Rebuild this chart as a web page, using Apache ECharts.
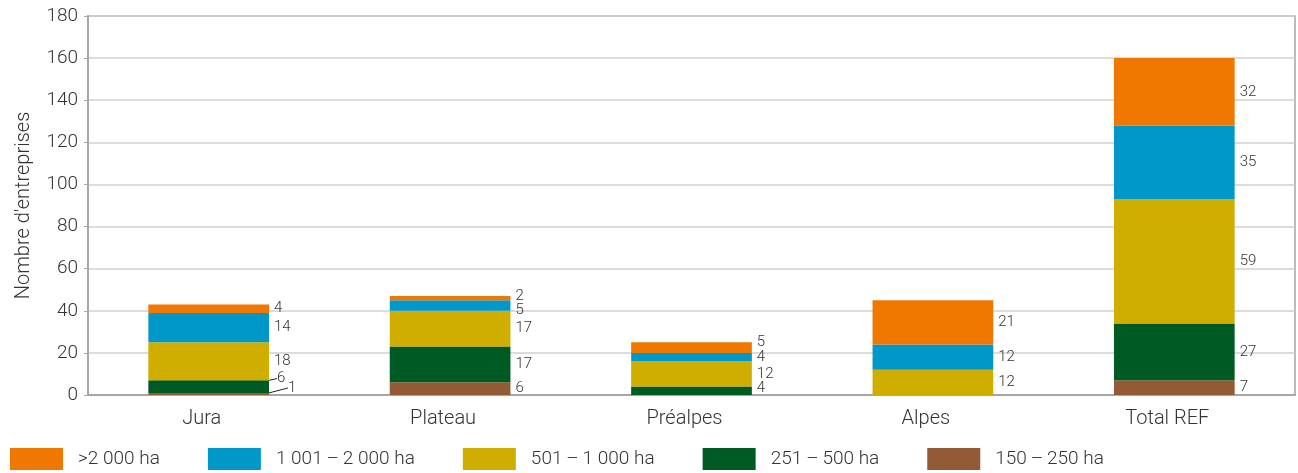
<!DOCTYPE html>
<html><head><meta charset="utf-8">
<script src="https://cdn.jsdelivr.net/npm/echarts@6/dist/echarts.min.js"></script>
<style>html,body{margin:0;padding:0;background:#fff}#c{width:1298px;height:473px}</style>
</head><body><div id="c"></div>
<script>
const categories = ['Jura', 'Plateau', 'Préalpes', 'Alpes', 'Total REF'];
const s150_250 = [1, 6, 0, 0, 7];
const s251_500 = [6, 17, 4, 0, 27];
const s501_1000 = [18, 17, 12, 12, 59];
const s1001_2000 = [14, 5, 4, 12, 35];
const s2000plus = [4, 2, 5, 21, 32];
const seriesNames = ['150\u2009\u2013\u2009250 ha', '251\u2009\u2013\u2009500 ha', '501\u2009\u2013\u20091 000 ha', '1 001\u2009\u2013\u20092 000 ha', '>2 000 ha'];
const yTicks = { min: 0, max: 180, interval: 20 };

const colors = ['#935B35', '#005A24', '#CFAE00', '#0098C9', '#F07800'];
const values = [s150_250, s251_500, s501_1000, s1001_2000, s2000plus];
// label shifts [seriesIndex-dataIndex] -> [dx, dy, leaderLine]
const shifts = {
  '0-0': [14, -6, true],
  '1-0': [3, -8, true],
  '4-1': [0, -2],
  '3-1': [0, 5],
  '4-2': [0, -5],
  '1-2': [0, -3]
};
const font = 'Roboto, "Noto Sans", sans-serif';
const chart = echarts.init(document.getElementById('c'));
chart.setOption({
  animation: false,
  textStyle: { fontFamily: font, fontWeight: 300 },
  grid: { left: 88, right: 3, top: 16, bottom: 78, show: true, borderColor: '#a6a6a6', borderWidth: 1.5 },
  legend: {
    data: seriesNames.slice().reverse(),
    left: 10, bottom: 3, padding: 0, itemWidth: 53, itemHeight: 22, itemGap: 48,
    icon: 'rect',
    textStyle: { fontSize: 19, color: '#333', fontFamily: font, fontWeight: 300, padding: [0, 0, 0, 10] }
  },
  xAxis: {
    type: 'category', data: categories,
    axisLine: { lineStyle: { color: '#a6a6a6', width: 2 } },
    axisTick: { show: false },
    axisLabel: { fontSize: 20, color: '#333', margin: 14, fontFamily: font, fontWeight: 300, padding: [0, 14, 0, 0] }
  },
  yAxis: {
    type: 'value', min: yTicks.min, max: yTicks.max, interval: yTicks.interval,
    name: "Nombre d'entreprises", nameLocation: 'middle', nameGap: 54,
    nameTextStyle: { fontSize: 20, color: '#333', fontFamily: font, fontWeight: 300 },
    axisLine: { show: true, lineStyle: { color: '#a6a6a6', width: 2 } },
    axisTick: { show: true, length: 4, lineStyle: { color: '#a6a6a6' } },
    axisLabel: { fontSize: 19, color: '#333', margin: 10, fontFamily: font, fontWeight: 300 },
    splitLine: { lineStyle: { color: '#d0d0d0', width: 1.5 } }
  },
  series: values.map((v, i) => ({
    name: seriesNames[i], type: 'bar', stack: 'total', barWidth: '50%',
    data: v.map((val, j) => {
      const s = shifts[i + '-' + j];
      return s && s[2] ? { value: val, labelLine: { show: true } } : val;
    }),
    itemStyle: { color: colors[i] },
    label: {
      show: true, position: 'right', distance: 5, fontSize: 15, color: '#333',
      fontFamily: font, fontWeight: 300,
      formatter: p => (p.value ? String(p.value) : '')
    },
    labelLine: { show: false, lineStyle: { color: '#222', width: 1 } },
    labelLayout: p => {
      const s = shifts[p.seriesIndex + '-' + p.dataIndex];
      return s ? { dx: s[0], dy: s[1] } : {};
    }
  }))
});
</script></body></html>
